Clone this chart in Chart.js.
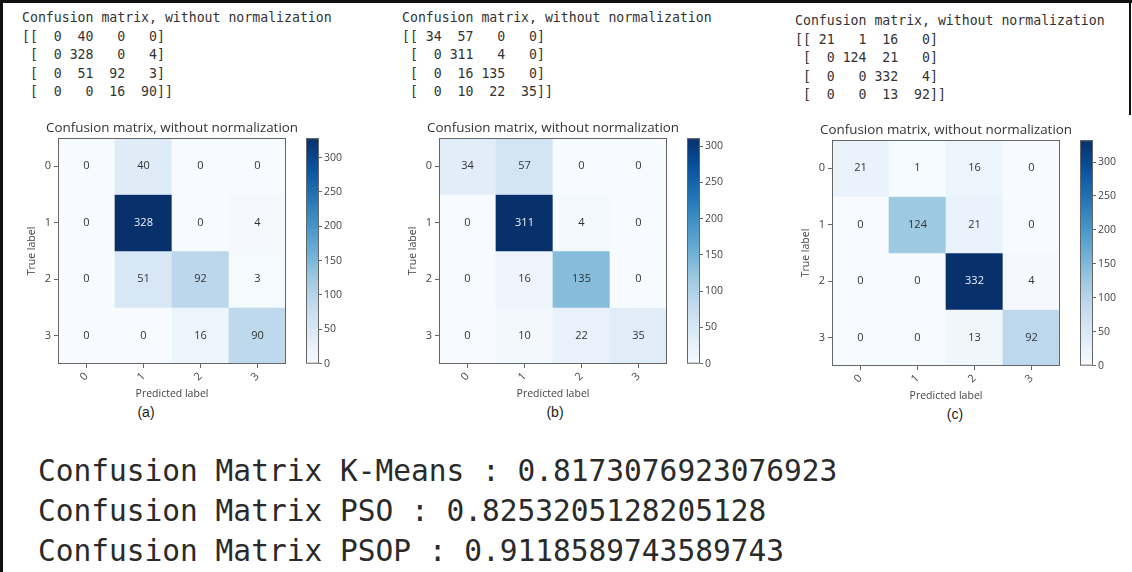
<!DOCTYPE html>
<html>
<head>
<meta charset="utf-8">
<script src="https://cdn.jsdelivr.net/npm/chart.js@4.4.1/dist/chart.umd.min.js"></script>
<style>
  html, body { margin: 0; padding: 0; background: #fff; }
  body { width: 1132px; height: 572px; position: relative; overflow: hidden; }
  .edge { position: absolute; background: #111; }
  pre.raw { position: absolute; margin: 0; font-family: "DejaVu Sans Mono", monospace; font-size: 13.2px; line-height: 18.5px; color: #333; }
  canvas { position: absolute; }
  .cap { position: absolute; font-family: "Liberation Sans", Arial, sans-serif; font-size: 14px; line-height: 16px; color: #222; transform: translateX(-50%); }
  .acc { position: absolute; left: 38px; top: 451px; margin: 0; font-family: "DejaVu Sans Mono", monospace; font-size: 29.5px; line-height: 40px; color: #2a2a2a; }
</style>
</head>
<body>
<div class="edge" style="left:0;top:0;width:1132px;height:3px"></div>
<div class="edge" style="left:0;top:0;width:3px;height:572px"></div>
<div class="edge" style="left:1129px;top:0;width:2px;height:115px"></div>
<pre class="acc" id="acc"></pre>
<script>
// data
const categories = ['0', '1', '2', '3'];
const kmeansMatrix = [[0, 40, 0, 0], [0, 328, 0, 4], [0, 51, 92, 3], [0, 0, 16, 90]];
const psoMatrix = [[34, 57, 0, 0], [0, 311, 4, 0], [0, 16, 135, 0], [0, 10, 22, 35]];
const psopMatrix = [[21, 1, 16, 0], [0, 124, 21, 0], [0, 0, 332, 4], [0, 0, 13, 92]];
const colorbarTicks = [0, 50, 100, 150, 200, 250, 300];
const methodNames = ['K-Means', 'PSO', 'PSOP'];
const panelLetters = ['a', 'b', 'c'];

const TITLE = 'Confusion matrix, without normalization';
const PW = 228, PH = 226, CBW = 13;
const FONT = 'Open Sans';

// matplotlib "Blues"
const blues = ['#f7fbff', '#deebf7', '#c6dbef', '#9ecae1', '#6baed6', '#4292c6', '#2171b5', '#08519c', '#08306b'];
function hexRgb(h) { return [1, 3, 5].map(i => parseInt(h.substr(i, 2), 16)); }
function bluesAt(t) {
    t = Math.max(0, Math.min(1, t));
    const p = t * (blues.length - 1);
    const i = Math.min(Math.floor(p), blues.length - 2);
    const f = p - i;
    const a = hexRgb(blues[i]), b = hexRgb(blues[i + 1]);
    return 'rgb(' + a.map((v, k) => Math.round(v + (b[k] - v) * f)).join(',') + ')';
}

const panels = [
    { m: kmeansMatrix, plotX: 58, plotY: 138, cbX: 306, textX: 22, textY: 9, capX: 146 },
    { m: psoMatrix, plotX: 439, plotY: 138, cbX: 687, textX: 402, textY: 9, capX: 555 },
    { m: psopMatrix, plotX: 832, plotY: 140, cbX: 1080, textX: 795, textY: 12, capX: 955 }
];

// box around the plot area / colorbar
const framePlugin = {
    id: 'frame',
    afterDraw(chart) {
        const a = chart.chartArea, ctx = chart.ctx;
        ctx.save();
        ctx.strokeStyle = '#666';
        ctx.lineWidth = 1;
        ctx.strokeRect(a.left + 0.5, a.top + 0.5, a.right - a.left - 1, a.bottom - a.top - 1);
        ctx.restore();
    }
};

// counts written in each cell
const cellTextPlugin = {
    id: 'cellText',
    afterDatasetsDraw(chart) {
        const ctx = chart.ctx;
        ctx.save();
        ctx.font = '11px "' + FONT + '"';
        ctx.textAlign = 'center';
        ctx.textBaseline = 'middle';
        chart.data.datasets.forEach((ds, i) => {
            chart.getDatasetMeta(i).data.forEach((bar, j) => {
                const v = ds.counts[j];
                const c = bar.getCenterPoint();
                ctx.fillStyle = v > ds.vmax / 2 ? '#eef3fb' : '#333';
                ctx.fillText(String(v), c.x, c.y);
            });
        });
        ctx.restore();
    }
};

function npFormat(m) {
    const w = Math.max(...m.flat().map(v => String(v).length));
    return m.map((row, i) => (i === 0 ? '[[' : ' [') +
        row.map(v => String(v).padStart(w)).join(' ') +
        (i === m.length - 1 ? ']]' : ']')).join('\n');
}

function addCanvas(left, top, w, h) {
    const c = document.createElement('canvas');
    c.width = w; c.height = h;
    c.style.left = left + 'px'; c.style.top = top + 'px';
    document.body.appendChild(c);
    return c;
}

function makeHeatmap(p, vmax) {
    // an empty right axis as wide as the left one keeps the title centred over the cells
    const Y_AXIS_W = 50, X_AXIS_H = 36, TITLE_H = 17;
    const canvas = addCanvas(p.plotX - Y_AXIS_W, p.plotY - TITLE_H, 2 * Y_AXIS_W + PW, TITLE_H + PH + X_AXIS_H);
    const datasets = p.m.map((row, i) => ({
        label: 'True ' + categories[i],
        counts: row,
        vmax: vmax,
        data: row.map(() => [i, i + 1]),
        backgroundColor: row.map(v => bluesAt(v / vmax)),
        borderWidth: 0,
        barPercentage: 1,
        categoryPercentage: 1
    }));
    new Chart(canvas, {
        type: 'bar',
        data: { labels: categories, datasets: datasets },
        options: {
            responsive: false,
            animation: false,
            layout: { padding: 0 },
            plugins: {
                legend: { display: false },
                tooltip: { enabled: false },
                title: {
                    display: true, text: TITLE, color: '#333',
                    font: { family: FONT, size: 13.4, weight: 'normal', lineHeight: '14px' },
                    padding: { top: 0, bottom: 3 }
                }
            },
            scales: {
                x: {
                    stacked: true,
                    offset: true,
                    grid: { offset: false, drawOnChartArea: false, tickLength: 4, color: '#666' },
                    border: { display: false },
                    ticks: { autoSkip: false, minRotation: 45, maxRotation: 45, padding: 2, color: '#444', font: { family: FONT, size: 11 } },
                    title: { display: true, text: 'Predicted label', color: '#444', font: { family: FONT, size: 10.5, lineHeight: '12px' }, padding: { top: 0, bottom: 0 } },
                    afterFit: s => { s.height = X_AXIS_H; }
                },
                y: {
                    min: 0, max: categories.length, reverse: true,
                    afterBuildTicks: s => { s.ticks = categories.map((c, i) => ({ value: i + 0.5 })); },
                    grid: { drawOnChartArea: false, tickLength: 4, color: '#666' },
                    border: { display: false },
                    ticks: { padding: 3, color: '#444', font: { family: FONT, size: 11 }, callback: (v, i) => categories[i] },
                    title: { display: true, text: 'True label', color: '#444', font: { family: FONT, size: 10.5, lineHeight: '12px' }, padding: { top: 18, bottom: 0 } },
                    afterFit: s => { s.width = Y_AXIS_W; }
                },
                spacer: {
                    type: 'linear', position: 'right', min: 0, max: 1,
                    grid: { display: false },
                    border: { display: false },
                    ticks: { display: false },
                    afterFit: s => { s.width = Y_AXIS_W; }
                }
            }
        },
        plugins: [cellTextPlugin, framePlugin]
    });
}

function makeColorbar(p, vmax) {
    const PAD_T = 8, PAD_L = 1, AXIS_W = 40;
    const canvas = addCanvas(p.cbX - PAD_L, p.plotY - PAD_T, PAD_L + CBW + AXIS_W, PH + 2 * PAD_T);
    new Chart(canvas, {
        type: 'bar',
        data: {
            labels: [''],
            datasets: [{
                data: [[0, vmax]],
                backgroundColor: c => {
                    const a = c.chart.chartArea;
                    if (!a) return bluesAt(0.5);
                    const g = c.chart.ctx.createLinearGradient(0, a.bottom, 0, a.top);
                    blues.forEach((h, k) => g.addColorStop(k / (blues.length - 1), h));
                    return g;
                },
                borderWidth: 0,
                barPercentage: 1,
                categoryPercentage: 1
            }]
        },
        options: {
            responsive: false,
            animation: false,
            layout: { padding: { top: PAD_T, bottom: PAD_T, left: PAD_L } },
            plugins: { legend: { display: false }, tooltip: { enabled: false } },
            scales: {
                x: { display: false },
                y: {
                    position: 'right', min: 0, max: vmax,
                    afterBuildTicks: s => { s.ticks = colorbarTicks.filter(t => t <= vmax).map(v => ({ value: v })); },
                    grid: { drawOnChartArea: false, tickLength: 3, color: '#666' },
                    border: { display: false },
                    ticks: { padding: 2, color: '#444', font: { family: FONT, size: 10.5 } },
                    afterFit: s => { s.width = AXIS_W; }
                }
            }
        },
        plugins: [framePlugin]
    });
}

const accLines = [];
panels.forEach((p, k) => {
    const vmax = Math.max(...p.m.flat());
    const pre = document.createElement('pre');
    pre.className = 'raw';
    pre.style.left = p.textX + 'px';
    pre.style.top = p.textY + 'px';
    pre.textContent = TITLE + '\n' + npFormat(p.m);
    document.body.appendChild(pre);

    makeHeatmap(p, vmax);
    makeColorbar(p, vmax);

    const cap = document.createElement('div');
    cap.className = 'cap';
    cap.style.left = p.capX + 'px';
    cap.style.top = (p.plotY + 266) + 'px';
    cap.textContent = '(' + panelLetters[k] + ')';
    document.body.appendChild(cap);

    const total = p.m.flat().reduce((s, v) => s + v, 0);
    const hits = p.m.reduce((s, row, i) => s + row[i], 0);
    accLines.push('Confusion Matrix ' + methodNames[k] + ' : ' + String(hits / total));
});
document.getElementById('acc').textContent = accLines.join('\n');
</script>
</body>
</html>
